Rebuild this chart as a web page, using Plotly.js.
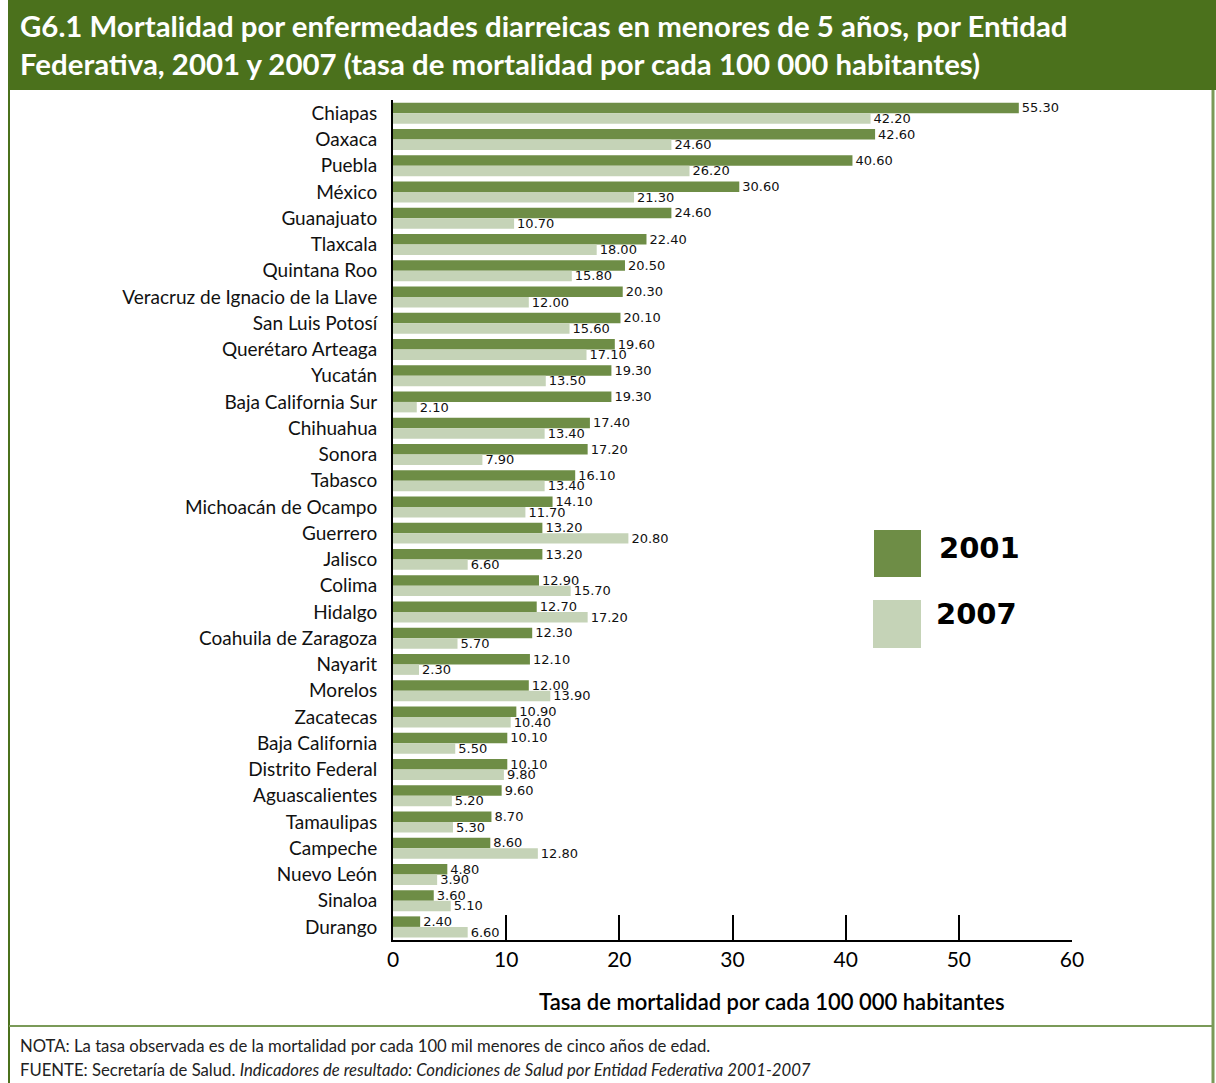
<!DOCTYPE html>
<html>
<head>
<meta charset="utf-8">
<script src="https://cdn.plot.ly/plotly-3.0.1.min.js"></script>
<style>
html,body{margin:0;padding:0;background:#fff;}
#chart{width:1216px;height:1083px;}
</style>
</head>
<body>
<div id="chart"></div>
<script>
const entidades = ["Chiapas","Oaxaca","Puebla","México","Guanajuato","Tlaxcala","Quintana Roo",
  "Veracruz de Ignacio de la Llave","San Luis Potosí","Querétaro Arteaga","Yucatán","Baja California Sur",
  "Chihuahua","Sonora","Tabasco","Michoacán de Ocampo","Guerrero","Jalisco","Colima","Hidalgo",
  "Coahuila de Zaragoza","Nayarit","Morelos","Zacatecas","Baja California","Distrito Federal",
  "Aguascalientes","Tamaulipas","Campeche","Nuevo León","Sinaloa","Durango"];
const tasa2001 = [55.3,42.6,40.6,30.6,24.6,22.4,20.5,20.3,20.1,19.6,19.3,19.3,17.4,17.2,16.1,14.1,
  13.2,13.2,12.9,12.7,12.3,12.1,12.0,10.9,10.1,10.1,9.6,8.7,8.6,4.8,3.6,2.4];
const tasa2007 = [42.2,24.6,26.2,21.3,10.7,18.0,15.8,12.0,15.6,17.1,13.5,2.1,13.4,7.9,13.4,11.7,
  20.8,6.6,15.7,17.2,5.7,2.3,13.9,10.4,5.5,9.8,5.2,5.3,12.8,3.9,5.1,6.6];
const xTicks = [0,10,20,30,40,50,60];
const serieNames = ["2001","2007"];

const W = 1216, H = 1083;
const M = {l:393, r:144, t:100, b:143};
const PW = W - M.l - M.r, PH = H - M.t - M.b;
const px = x => (x - M.l) / PW;
const py = y => (H - M.b - y) / PH;

const dark = "#6e8d46", light = "#c5d3b7", titleGreen = "#4b711c", borderGreen = "#7a9a58";

const traces = [
  {type:"bar", orientation:"h", name:serieNames[0], y:entidades, x:tasa2001,
   marker:{color:dark}, text:tasa2001.map(v=>v.toFixed(2)), textposition:"outside",
   textfont:{family:"DejaVu Sans", size:13, color:"#111"}, cliponaxis:false, constraintext:"none",
   hoverinfo:"x+y"},
  {type:"bar", orientation:"h", name:serieNames[1], y:entidades, x:tasa2007,
   marker:{color:light}, text:tasa2007.map(v=>v.toFixed(2)), textposition:"outside",
   textfont:{family:"DejaVu Sans", size:13, color:"#111"}, cliponaxis:false, constraintext:"none",
   hoverinfo:"x+y"}
];

const shapes = [
  {type:"rect", xref:"paper", yref:"paper", x0:px(8), x1:px(1216), y0:py(90), y1:py(0),
   fillcolor:titleGreen, line:{width:0}, layer:"below"},
  {type:"line", xref:"paper", yref:"paper", x0:px(9), x1:px(9), y0:py(1083), y1:py(90),
   line:{color:titleGreen, width:2}},
  {type:"line", xref:"paper", yref:"paper", x0:px(1213), x1:px(1213), y0:py(1083), y1:py(90),
   line:{color:borderGreen, width:3}},
  {type:"line", xref:"paper", yref:"paper", x0:px(9), x1:px(1213), y0:py(1026), y1:py(1026),
   line:{color:borderGreen, width:2}},
  {type:"rect", xref:"paper", yref:"paper", x0:px(874), x1:px(921), y0:py(577), y1:py(530),
   fillcolor:dark, line:{width:0}},
  {type:"rect", xref:"paper", yref:"paper", x0:px(873), x1:px(921), y0:py(648), y1:py(600),
   fillcolor:light, line:{width:0}}
];

const annotations = [
  {xref:"paper", yref:"paper", x:px(18), y:py(44), xanchor:"left", yanchor:"middle", align:"left",
   showarrow:false,
   text:"<b>G6.1 Mortalidad por enfermedades diarreicas en menores de 5 años, por Entidad<br>Federativa, 2001 y 2007 (tasa de mortalidad por cada 100 000 habitantes)</b>",
   font:{family:"Lato", size:29.4, color:"#ffffff"}},
  {xref:"paper", yref:"paper", x:px(937), y:py(548), xanchor:"left", yanchor:"middle", showarrow:false,
   text:"<b>"+serieNames[0]+"</b>", font:{family:"DejaVu Sans", size:29, color:"#000"}},
  {xref:"paper", yref:"paper", x:px(934), y:py(614), xanchor:"left", yanchor:"middle", showarrow:false,
   text:"<b>"+serieNames[1]+"</b>", font:{family:"DejaVu Sans", size:29, color:"#000"}},
  {xref:"paper", yref:"paper", x:px(772), y:py(1001), xanchor:"center", yanchor:"middle", showarrow:false,
   text:"Tasa de mortalidad por cada 100 000 habitantes",
   font:{family:"Lato", size:22, color:"#000", weight:600}},
  {xref:"paper", yref:"paper", x:px(18), y:py(1046), xanchor:"left", yanchor:"middle", showarrow:false,
   text:"NOTA: La tasa observada es de la mortalidad por cada 100 mil menores de cinco años de edad.",
   font:{family:"Lato", size:16.7, color:"#222"}},
  {xref:"paper", yref:"paper", x:px(18), y:py(1070), xanchor:"left", yanchor:"middle", showarrow:false,
   text:"FUENTE: Secretaría de Salud. <i>Indicadores de resultado: Condiciones de Salud por Entidad Federativa 2001-2007</i>",
   font:{family:"Lato", size:16.7, color:"#222"}}
];

const layout = {
  width:W, height:H, margin:M, paper_bgcolor:"#fff", plot_bgcolor:"#fff",
  barmode:"group", bargap:0.2, bargroupgap:0, showlegend:false,
  xaxis:{range:[0,60], tickvals:xTicks, ticktext:xTicks.map(String), showgrid:false, zeroline:false,
    showline:true, linecolor:"#000", linewidth:2, ticks:"inside", ticklen:25, tickwidth:2, tickcolor:"#000",
    tickfont:{family:"Lato", size:21, color:"#000"}},
  yaxis:{type:"category", autorange:"reversed", showgrid:false, zeroline:false,
    showline:true, linecolor:"#000", linewidth:2, ticks:"", ticklabelstandoff:10,
    tickfont:{family:"Lato", size:19, color:"#111"}},
  shapes:shapes, annotations:annotations,
  font:{family:"Lato"}
};

Plotly.newPlot("chart", traces, layout, {displayModeBar:false, staticPlot:true});
</script>
</body>
</html>
